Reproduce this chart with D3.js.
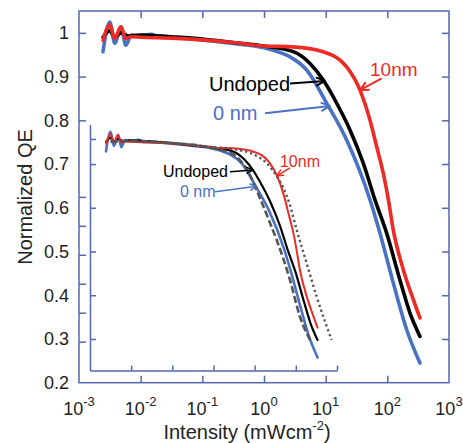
<!DOCTYPE html>
<html>
<head>
<meta charset="utf-8">
<script src="https://cdn.jsdelivr.net/npm/d3@7"></script>
<style>
  body { margin: 0; background: #fff; }
  text { font-family: "Liberation Sans", Arial, Helvetica, sans-serif; }
</style>
</head>
<body>
<svg id="chart" width="463" height="443"></svg>
<script>
// intensity in mW/cm2, normalized QE
var blueI  = [0.00245, 0.00316, 0.0038, 0.00479, 0.00575, 0.00708, 0.01, 0.0151, 0.02, 0.0316, 0.1, 0.316, 1, 1.58, 2.64, 4.92, 10.4, 21.9, 52.4, 76.0, 125, 206, 338];
var blueQE = [0.957, 1.025, 0.976, 1.014, 0.972, 0.995, 0.993, 0.997, 0.990, 0.989, 0.984, 0.976, 0.966, 0.958, 0.945, 0.915, 0.839, 0.755, 0.618, 0.542, 0.428, 0.321, 0.245];

var blackI  = [0.00245, 0.00316, 0.0038, 0.00479, 0.00631, 0.01, 0.0316, 0.1, 0.316, 1, 2.99, 5.57, 9.14, 15.1, 24.8, 40.7, 63.1, 97.5, 160, 233, 338];
var blackQE = [0.990, 1.005, 0.990, 1.000, 0.993, 0.995, 0.991, 0.986, 0.978, 0.970, 0.957, 0.930, 0.892, 0.839, 0.778, 0.702, 0.618, 0.542, 0.435, 0.359, 0.306];

var redI  = [0.00245, 0.00316, 0.0038, 0.00479, 0.00575, 0.00708, 0.01, 0.0316, 0.1, 0.316, 1, 2.95, 9.06, 21.9, 36.0, 52.4, 67.1, 85.9, 104, 125, 182, 264, 338];
var redQE = [0.983, 1.018, 0.987, 1.014, 0.987, 0.991, 0.990, 0.988, 0.984, 0.978, 0.970, 0.968, 0.957, 0.922, 0.869, 0.800, 0.740, 0.679, 0.618, 0.549, 0.458, 0.390, 0.348];

// inset only: fits
var dashI  = [0.00316, 0.01, 0.1, 1, 3.16, 7.69, 13.5, 23.6, 34.3, 72.1, 126, 221];
var dashQE = [0.990, 0.993, 0.986, 0.968, 0.945, 0.875, 0.795, 0.710, 0.651, 0.513, 0.386, 0.306];
var dotI  = [0.00316, 0.01, 0.1, 1, 3.16, 10, 20, 34.3, 50.1, 70.8, 105, 184, 321, 741];
var dotQE = [0.995, 0.993, 0.986, 0.972, 0.965, 0.945, 0.915, 0.872, 0.830, 0.775, 0.686, 0.570, 0.455, 0.306];

var xExps = [-3, -2, -1, 0, 1, 2, 3];
var yTicks = [0.2, 0.3, 0.4, 0.5, 0.6, 0.7, 0.8, 0.9, 1.0];

// annotations: [text, textX, textY, arrow from x,y, arrow to x,y]
var mainNotes = [
  {t: "Undoped", c: "#000",    tx: 0.128, ty: 0.868, x1: 2.64, y1: 0.884, x2: 9.75, y2: 0.890, size: 20},
  {t: "0 nm",    c: "#4a72c2", tx: 0.149, ty: 0.801, x1: 1.04, y1: 0.816, x2: 11.7, y2: 0.833, size: 20},
  {t: "10nm",    c: "#ee2a24", tx: 52.4,  ty: 0.901, x1: 80.9, y1: 0.896, x2: 36.0, y2: 0.869, size: 19}
];
var insetNotes = [
  {t: "Undoped", c: "#000",    tx: 0.0593, ty: 0.870, x1: 2.51, y1: 0.887, x2: 9.25, y2: 0.893, size: 16},
  {t: "0 nm",    c: "#4a72c2", tx: 0.153,  ty: 0.800, x1: 1.09, y1: 0.818, x2: 11.2, y2: 0.837, size: 16},
  {t: "10nm",    c: "#ee2a24", tx: 41.2,   ty: 0.904, x1: 72.1, y1: 0.900, x2: 34.3, y2: 0.872, size: 16}
];

var axisColor = "#5566b0";
var blue = "#4a72c2", red = "#ee2a24";

var svg = d3.select("#chart");

var x = d3.scaleLog().domain([1e-3, 1e3]).range([79, 449]);
var y = d3.scaleLinear().domain([0.2, 1.05]).range([382.7, 11]);
var xIn = d3.scaleLog().domain([1e-3, 1e3]).range([90, 337]);
var yIn = d3.scaleLinear().domain([0.2, 1.05]).range([370.6, 124.5]);

var decades = xExps.slice(1, -1).map(function(e) { return Math.pow(10, e); });

function styleAxis(g, keepDomain) {
  g.selectAll("text").remove();
  g.selectAll("line").attr("stroke", axisColor).attr("stroke-width", 1.5);
  if (keepDomain) g.select(".domain").attr("stroke", axisColor).attr("stroke-width", 1.5);
  else g.select(".domain").remove();
}

// frame
svg.append("rect")
  .attr("x", x(1e-3)).attr("y", y(1.05))
  .attr("width", x(1e3) - x(1e-3)).attr("height", y(0.2) - y(1.05))
  .attr("fill", "none").attr("stroke", axisColor).attr("stroke-width", 1.5);

svg.append("g").attr("transform", "translate(0," + y(0.2) + ")")
  .call(d3.axisTop(x).tickValues(decades).tickSize(7)).call(styleAxis);
svg.append("g").attr("transform", "translate(0," + y(1.05) + ")")
  .call(d3.axisBottom(x).tickValues(decades).tickSize(7)).call(styleAxis);
svg.append("g").attr("transform", "translate(" + x(1e3) + ",0)")
  .call(d3.axisLeft(y).tickValues(yTicks.slice(1)).tickSize(7)).call(styleAxis);
svg.append("g").attr("transform", "translate(" + x(1e-3) + ",0)")
  .call(d3.axisRight(y).tickValues([0.8, 0.9, 1.0]).tickSize(7)).call(styleAxis);
svg.append("g").attr("transform", "translate(" + x(1e-3) + ",0)")
  .call(d3.axisRight(yIn).tickValues([0.3, 0.4, 0.5, 0.6, 0.7, 0.8]).tickSize(7)).call(styleAxis);

// tick labels
svg.append("g").selectAll("text").data(yTicks).join("text")
  .attr("x", x(1e-3) - 10).attr("y", function(d) { return y(d); })
  .attr("dy", "0.35em").attr("text-anchor", "end")
  .attr("font-size", 18).attr("fill", "#222")
  .text(function(d) { return d === 1 ? "1" : d.toFixed(1); });

var xl = svg.append("g").selectAll("text").data(xExps).join("text")
  .attr("x", function(d) { return x(Math.pow(10, d)); })
  .attr("y", 415).attr("text-anchor", "middle")
  .attr("font-size", 18).attr("fill", "#222");
xl.append("tspan").text("10");
xl.append("tspan").attr("dy", -9).attr("font-size", 13).text(function(d) { return d; });

// axis titles
var xt = svg.append("text").attr("x", 247).attr("y", 439)
  .attr("text-anchor", "middle").attr("font-size", 20).attr("fill", "#222");
xt.append("tspan").text("Intensity (mWcm");
xt.append("tspan").attr("dy", -9).attr("font-size", 13).text("-2");
xt.append("tspan").attr("dy", 9).text(")");

svg.append("text")
  .attr("transform", "translate(32," + 197 + ") rotate(-90)")
  .attr("text-anchor", "middle").attr("font-size", 20).attr("fill", "#222")
  .text("Normalized QE");

// inset axes
svg.append("g").attr("transform", "translate(0," + yIn(0.2) + ")")
  .call(d3.axisTop(xIn).tickValues(decades.concat([1e3])).tickSize(5).tickSizeOuter(0))
  .call(styleAxis, true);
svg.append("g").attr("transform", "translate(" + xIn(1e-3) + ",0)")
  .call(d3.axisRight(yIn).tickValues([1.0]).tickSize(6).tickSizeOuter(0))
  .call(styleAxis, true);
svg.append("g").attr("transform", "translate(" + xIn(1e-3) + ",0)")
  .call(d3.axisRight(y).tickValues([0.3, 0.4, 0.5, 0.6, 0.7]).tickSize(6))
  .call(styleAxis);

// curves
function drawCurve(xs, ys, sx, sy, color, width, dash) {
  var pts = xs.map(function(v, i) { return [v, ys[i]]; });
  var line = d3.line()
    .x(function(d) { return sx(d[0]); })
    .y(function(d) { return sy(d[1]); })
    .curve(d3.curveMonotoneX);
  svg.append("path").datum(pts)
    .attr("d", line).attr("fill", "none")
    .attr("stroke", color).attr("stroke-width", width)
    .attr("stroke-linecap", dash ? "butt" : "round")
    .attr("stroke-linejoin", "round")
    .attr("stroke-dasharray", dash || null);
}

drawCurve(blueI, blueQE, x, y, blue, 3.6);
drawCurve(blackI, blackQE, x, y, "#000", 3.6);
drawCurve(redI, redQE, x, y, red, 3.6);

drawCurve(blueI, blueQE, xIn, yIn, blue, 2.6);
drawCurve(blackI, blackQE, xIn, yIn, "#000", 2.2);
drawCurve(redI, redQE, xIn, yIn, red, 2);
drawCurve(dashI, dashQE, xIn, yIn, "#555", 2.6, "7,3");
drawCurve(dotI, dotQE, xIn, yIn, "#555", 2.4, "2.2,3");

// annotations
function arrowHead(g, ax, ay, bx, by, color, w, len) {
  var ang = Math.atan2(by - ay, bx - ax);
  var a1 = ang + Math.PI - 0.45, a2 = ang + Math.PI + 0.45;
  g.append("path")
    .attr("d", "M" + (bx + len * Math.cos(a1)) + "," + (by + len * Math.sin(a1)) +
               "L" + bx + "," + by +
               "L" + (bx + len * Math.cos(a2)) + "," + (by + len * Math.sin(a2)))
    .attr("fill", "none").attr("stroke", color).attr("stroke-width", w)
    .attr("stroke-linecap", "round").attr("stroke-linejoin", "round");
}

function drawNotes(notes, sx, sy, w, len) {
  var g = svg.append("g");
  notes.forEach(function(n) {
    g.append("text").attr("x", sx(n.tx)).attr("y", sy(n.ty))
      .attr("font-size", n.size).attr("fill", n.c).text(n.t);
    var ax = sx(n.x1), ay = sy(n.y1), bx = sx(n.x2), by = sy(n.y2);
    g.append("line").attr("x1", ax).attr("y1", ay).attr("x2", bx).attr("y2", by)
      .attr("stroke", n.c).attr("stroke-width", w);
    arrowHead(g, ax, ay, bx, by, n.c, w, len);
  });
}

drawNotes(mainNotes, x, y, 2, 9);
drawNotes(insetNotes, xIn, yIn, 1.5, 7);
</script>
</body>
</html>
